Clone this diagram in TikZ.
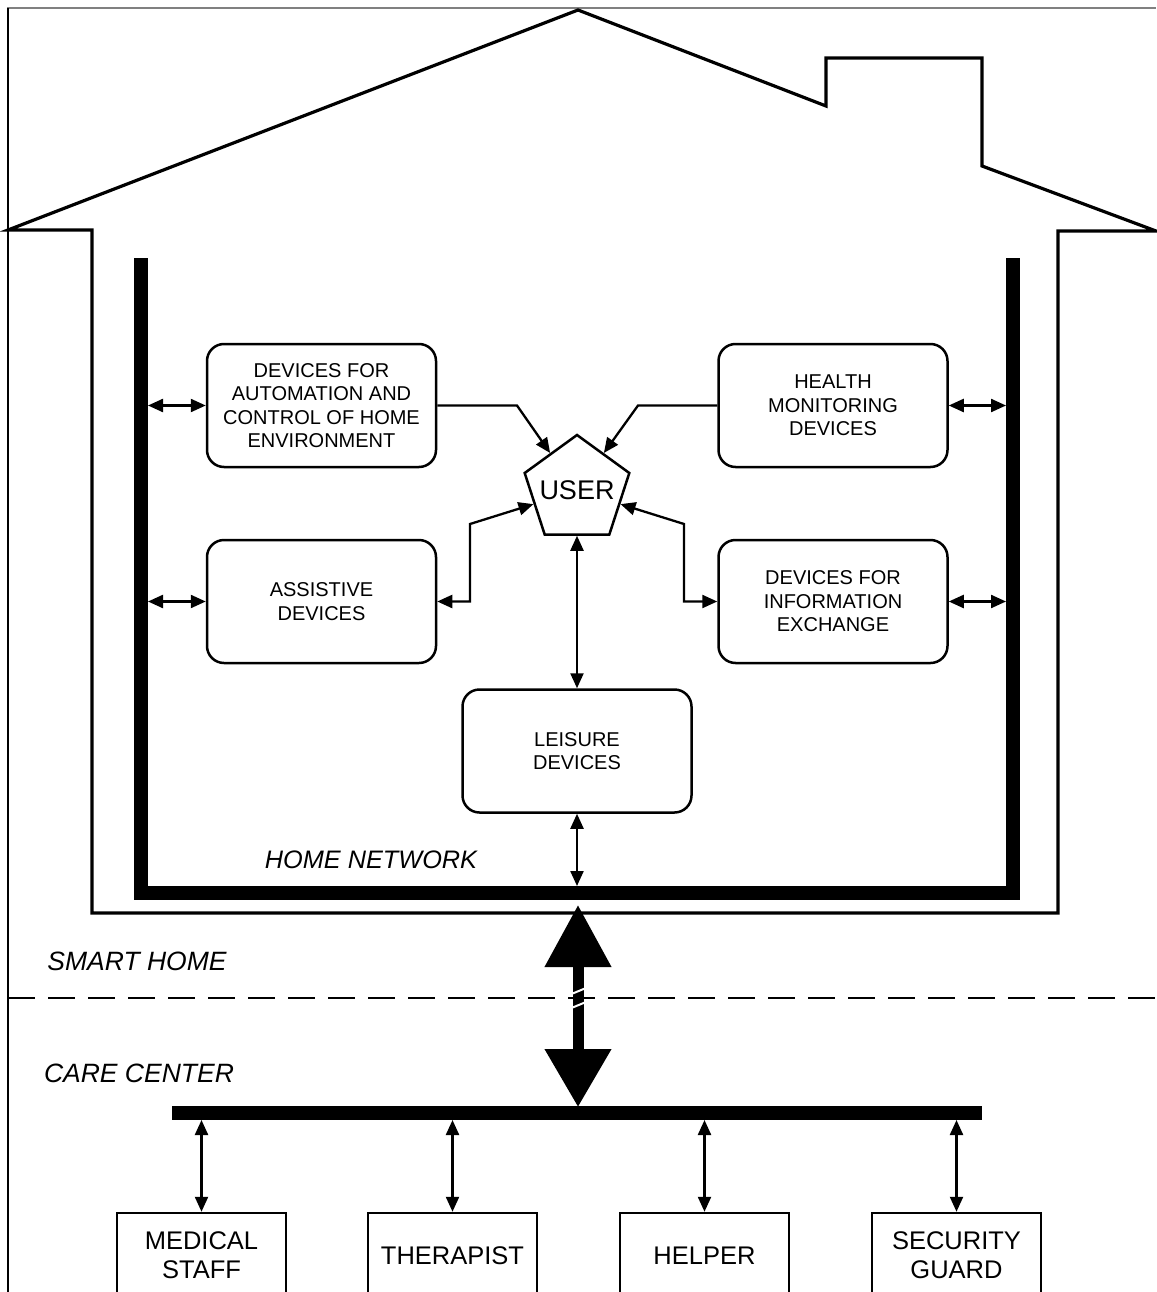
\documentclass[tikz,border=0pt]{standalone}
\usepackage{fontspec}
\setmainfont{Liberation Sans}
\usetikzlibrary{arrows.meta,shapes.geometric}
\begin{document}
\begin{tikzpicture}[x=1pt,y=-1pt,
  dev/.style={draw,line width=2.5pt,rounded corners=17pt,minimum width=229pt,minimum height=123pt,align=center,font=\fontsize{20}{23.5}\selectfont,inner sep=0pt},
  staff/.style={draw,line width=2.5pt,minimum width=169pt,minimum height=174pt,align=center,inner sep=0pt},
  stafftext/.style={font=\fontsize{25.5}{29}\selectfont,align=center},
  lbl/.style={font=\itshape\fontsize{26.5}{30}\selectfont,inner sep=0pt},
  conn/.style={line width=2.3pt,{Triangle[length=15pt,width=13pt]}-{Triangle[length=15pt,width=13pt]}},
  one/.style={line width=2.3pt,-{Triangle[length=15pt,width=13pt]}},
  bus/.style={line width=14pt,line join=miter},
  outline/.style={line width=3.2pt,line join=miter}
]
\useasboundingbox (0,0) rectangle (1156,1292);
% frame
\draw[gray,line width=1.5pt] (7,8) -- (1156,8);
\draw[line width=1.5pt] (8,8) -- (8,1292);
% house
\draw[outline] (92,913) -- (92,230) -- (8,230) -- (578,10) -- (826,106) -- (826,58) -- (982,58) -- (982,166) -- (1156,231) -- (1058,231) -- (1058,913) -- cycle;
% home network bus
\coordinate (hbusL1) at (148,405.5);
\coordinate (hbusL2) at (148,601.5);
\coordinate (hbusR1) at (1006,405.5);
\coordinate (hbusR2) at (1006,601.5);
\coordinate (hbusB) at (577,886);
\draw[bus] (141,258) -- (141,893) -- (1013,893) -- (1013,258);
% devices
\node[dev] (auto) at (321.5,405.5) {DEVICES FOR\\AUTOMATION AND\\CONTROL OF HOME\\ENVIRONMENT};
\node[dev] (health) at (833,405.5) {HEALTH\\MONITORING\\DEVICES};
\node[dev] (assist) at (321.5,601.5) {ASSISTIVE\\DEVICES};
\node[dev] (info) at (833,601.5) {DEVICES FOR\\INFORMATION\\EXCHANGE};
\node[dev] (leis) at (577,751) {LEISURE\\DEVICES};
\node[regular polygon,regular polygon sides=5,draw,line width=2.5pt,minimum size=110pt,inner sep=0pt,
  label={[font=\fontsize{27}{30}\selectfont,inner sep=0pt]center:USER}] (user) at (577,490) {};
% connectors inside home
\draw[conn] (hbusL1) -- (auto.west);
\draw[conn] (hbusL2) -- (assist.west);
\draw[conn] (health.east) -- (hbusR1);
\draw[conn] (info.east) -- (hbusR2);
\draw[one] (auto.east) -- (517,405.5) -- (user.side 1);
\draw[one] (health.west) -- (638,405.5) -- (user.side 5);
\draw[conn] (assist.east) -- (470,601.5) -- (470,524) -- (user.side 2);
\draw[conn] (info.west) -- (684,601.5) -- (684,524) -- (user.side 4);
\draw[conn] (user.side 3) -- (leis.north);
\draw[conn] (leis.south) -- (hbusB);
% labels
\node[lbl,font=\itshape\fontsize{25.3}{30}\selectfont] (hn) at (371,860) {HOME NETWORK};
\node[lbl] (sh) at (137,961) {SMART HOME};
\node[lbl] (cc) at (139,1073) {CARE CENTER};
% separation
\draw[line width=2pt,dash pattern=on 27pt off 13pt] (8,998) -- (1156,998);
% care center bar
\coordinate (cbusT) at (578,1107);
\coordinate (hbusOut) at (578,905);
\draw[line width=14pt] (172,1113) -- (982,1113);
% big link arrow
\draw[line width=11pt,{Triangle[length=62pt,width=64pt]}-{Triangle[length=58pt,width=64pt]}] (hbusOut) -- (cbusT);
\draw[white,line width=2pt] (569,995) -- (586,988);
\draw[white,line width=2pt] (569,1009) -- (586,1002);
% staff
\node[staff] (med) at (201.5,1300) {};
\node[staff] (ther) at (452.5,1300) {};
\node[staff] (help) at (704.5,1300) {};
\node[staff] (sec) at (956.5,1300) {};
\node[stafftext] (medt) at (201.5,1255.5) {MEDICAL\\STAFF};
\node[stafftext] (thert) at (452.5,1255.5) {THERAPIST};
\node[stafftext] (helpt) at (704.5,1255.5) {HELPER};
\node[stafftext] (sect) at (956.5,1255.5) {SECURITY\\GUARD};
\coordinate (c1) at (201.5,1120);
\coordinate (c2) at (452.5,1120);
\coordinate (c3) at (704.5,1120);
\coordinate (c4) at (956.5,1120);
\draw[conn] (c1) -- (med.north);
\draw[conn] (c2) -- (ther.north);
\draw[conn] (c3) -- (help.north);
\draw[conn] (c4) -- (sec.north);
\end{tikzpicture}
\end{document}
